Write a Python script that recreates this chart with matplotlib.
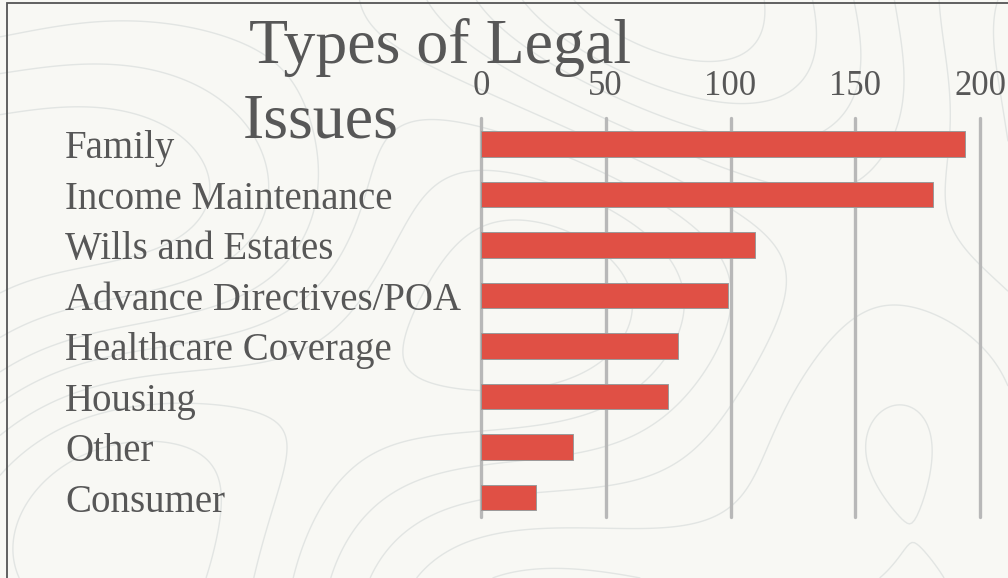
import numpy as np
import matplotlib.pyplot as plt
from matplotlib.transforms import blended_transform_factory
from matplotlib.patches import Rectangle

categories = ['Family', 'Income Maintenance', 'Wills and Estates',
              'Advance Directives/POA', 'Healthcare Coverage', 'Housing',
              'Other', 'Consumer']
counts = [194, 181, 110, 99, 79, 75, 37, 22]
xticks = [0, 50, 100, 150, 200]
title_lines = ['Types of Legal', 'Issues']

plt.rcParams['font.family'] = ['Liberation Serif', 'DejaVu Serif']
txt_color = '#575757'
bar_color = '#e05045'
grid_color = '#b8b8b8'
bg = '#f8f8f4'

fig = plt.figure(figsize=(10.08, 5.78), dpi=100)
fig.patch.set_facecolor(bg)

# faint topographic texture behind the chart
bga = fig.add_axes([0, 0, 1, 1], zorder=0)
bga.set_axis_off()
gx, gy = np.meshgrid(np.linspace(0, 10, 400), np.linspace(0, 6, 240))
field = (np.sin(gx * 0.6 + np.cos(gy * 0.9)) + np.cos(gy * 0.8 - gx * 0.3)
         + 0.5 * np.sin(gx * 1.1 + gy * 0.6))
bga.contour(gx, gy, field, levels=9, colors='#e2e5e3', linewidths=1.0,
            linestyles='solid')
bga.set_xlim(0, 10)
bga.set_ylim(0, 6)

# frame (only top and left edges are visible)
fig.add_artist(Rectangle((7 / 1008, -0.1), 1.2, 1 - 3 / 578 + 0.1,
                         transform=fig.transFigure, fill=False,
                         edgecolor='#555555', linewidth=1.3, zorder=1))

ax = fig.add_axes([481 / 1008, 1 - 517 / 578, 499 / 1008, 399 / 578], zorder=2)
ax.patch.set_alpha(0)
y = np.arange(len(categories))
ax.barh(y, counts, height=0.51, color=bar_color, edgecolor='#9a9a9a',
        linewidth=0.7, zorder=3)

ax.set_xlim(0, 200)
ax.set_ylim(7.386, -0.515)
ax.set_xticks(xticks)
ax.xaxis.tick_top()
ax.tick_params(axis='x', length=0, pad=11, labelsize=25, labelcolor=txt_color)
ax.set_yticks([])
for s in ax.spines.values():
    s.set_visible(False)
for xv in xticks:
    ax.axvline(xv, color=grid_color, linewidth=2.4, solid_capstyle='round',
               zorder=2, clip_on=False)
for lab in ax.get_xticklabels():
    lab.set_clip_on(False)

# category labels, left aligned in the figure margin
tr = blended_transform_factory(fig.transFigure, ax.transData)
for yi, name in zip(y, categories):
    ax.text(65 / 1008, yi, name, transform=tr, ha='left', va='center_baseline',
            fontsize=28, color=txt_color)

fig.text(249 / 1008, 1 - 63 / 578, title_lines[0], fontsize=46,
         color=txt_color, va='baseline', ha='left', zorder=4)
fig.text(243 / 1008, 1 - 137 / 578, title_lines[1], fontsize=46,
         color=txt_color, va='baseline', ha='left', zorder=4)

fig.savefig('out.png', dpi=100, facecolor=bg)
